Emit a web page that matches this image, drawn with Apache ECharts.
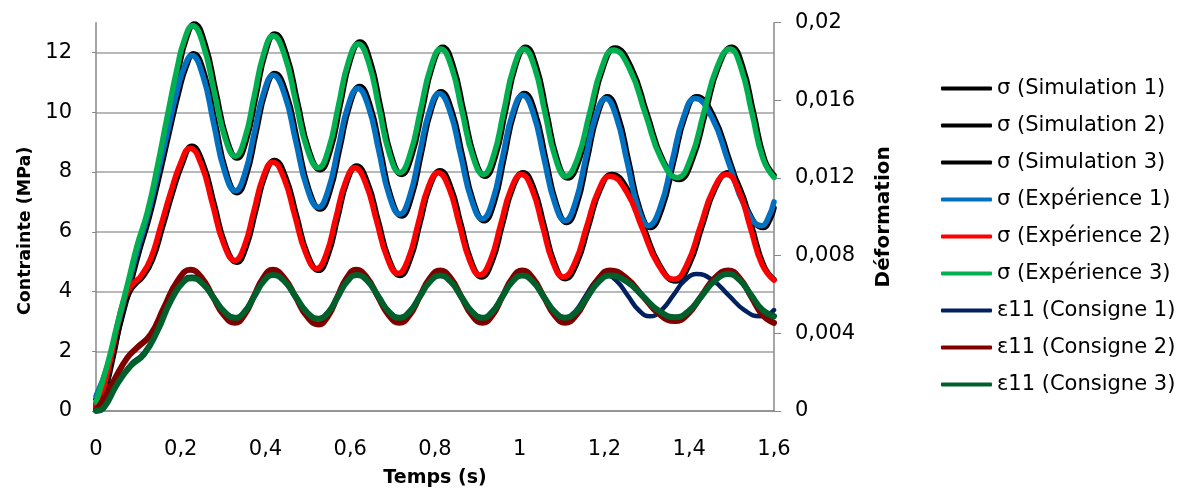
<!DOCTYPE html>
<html><head><meta charset="utf-8">
<script src="https://cdn.jsdelivr.net/npm/echarts@6/dist/echarts.min.js"></script>
<style>html,body{margin:0;padding:0;background:#fff}#c{width:1182px;height:493px}</style>
</head><body><div id="c"></div>
<script>
const seriesNames = ['σ (Simulation 1)','σ (Simulation 2)','σ (Simulation 3)','σ (Expérience 1)','σ (Expérience 2)','σ (Expérience 3)','ε11 (Consigne 1)','ε11 (Consigne 2)','ε11 (Consigne 3)'];

// Stress (MPa), [time (s), value]
const sim1 = [[0,0.4],[0.031,1.45],[0.054,2.75],[0.078,4.05],[0.101,5.3],[0.125,6.45],[0.149,7.85],[0.172,9.28],[0.196,10.72],[0.212,11.5],[0.230,11.96],
 [0.2558,11.28],[0.2815,9.64],[0.3073,7.99],[0.333,7.31],[0.355,7.90],[0.3775,9.31],[0.400,10.71],[0.422,11.30],
 [0.449,10.63],[0.4755,9.03],[0.502,7.43],[0.529,6.76],[0.552,7.36],[0.5755,8.81],[0.599,10.26],[0.622,10.86],
 [0.647,10.22],[0.6715,8.70],[0.696,7.17],[0.721,6.53],[0.744,7.14],[0.7675,8.61],[0.791,10.08],[0.814,10.69],
 [0.8395,10.06],[0.865,8.53],[0.8905,7.01],[0.916,6.37],[0.940,7.0],[0.9635,8.5],[0.987,10.0],[1.011,10.63],
 [1.036,10.0],[1.061,8.47],[1.086,6.95],[1.111,6.31],[1.135,6.93],[1.159,8.42],[1.183,9.9],[1.207,10.52],
 [1.232,9.88],[1.2575,8.33],[1.283,6.78],[1.308,6.14],[1.3355,6.78],[1.363,8.33],[1.3905,9.88],[1.418,10.52],
 [1.457,9.88],[1.4965,8.33],[1.536,6.78],[1.575,6.14],[1.59,6.4],[1.6,6.8]];
const sim2 = [[0,0.15],[0.015,0.4],[0.039,1.72],[0.062,3.28],[0.078,3.95],[0.094,4.27],[0.109,4.47],[0.133,5.06],[0.157,6.16],[0.18,7.28],[0.204,8.3],[0.226,8.86],
 [0.2525,8.29],[0.279,6.92],[0.3055,5.55],[0.332,4.98],[0.354,5.48],[0.3765,6.69],[0.399,7.89],[0.421,8.39],
 [0.447,7.85],[0.473,6.55],[0.499,5.25],[0.525,4.71],[0.5475,5.22],[0.570,6.46],[0.5925,7.69],[0.615,8.2],
 [0.6405,7.66],[0.666,6.37],[0.6915,5.08],[0.717,4.54],[0.741,5.06],[0.7645,6.29],[0.788,7.53],[0.812,8.04],
 [0.8365,7.52],[0.861,6.27],[0.8855,5.01],[0.91,4.49],[0.9345,5.0],[0.959,6.24],[0.9835,7.47],[1.008,7.98],
 [1.033,7.46],[1.0575,6.21],[1.082,4.95],[1.107,4.43],[1.1345,4.94],[1.162,6.18],[1.1895,7.41],[1.217,7.92],
 [1.255,7.40],[1.2925,6.14],[1.330,4.88],[1.368,4.35],[1.399,4.88],[1.430,6.17],[1.461,7.45],[1.492,7.98],
 [1.520,7.44],[1.548,6.15],[1.576,4.86],[1.6,4.4]];
const sim3 = [[0,0.25],[0.031,1.5],[0.054,2.85],[0.078,4.18],[0.101,5.5],[0.125,6.62],[0.149,8.18],[0.172,9.83],[0.196,11.5],[0.212,12.42],[0.232,12.96],
 [0.257,12.30],[0.2825,10.72],[0.308,9.13],[0.333,8.47],[0.355,9.08],[0.3775,10.55],[0.400,12.01],[0.422,12.62],
 [0.449,11.95],[0.4755,10.35],[0.502,8.75],[0.529,8.08],[0.5525,8.71],[0.576,10.22],[0.5995,11.72],[0.623,12.35],
 [0.6475,11.70],[0.672,10.14],[0.6965,8.57],[0.721,7.92],[0.745,8.55],[0.7695,10.05],[0.794,11.55],[0.818,12.18],
 [0.843,11.55],[0.868,10.02],[0.893,8.50],[0.918,7.86],[0.942,8.50],[0.966,10.02],[0.990,11.55],[1.014,12.18],
 [1.039,11.54],[1.0635,9.99],[1.088,8.44],[1.113,7.8],[1.141,8.44],[1.169,9.98],[1.197,11.51],[1.225,12.15],
 [1.263,11.50],[1.3005,9.95],[1.338,8.40],[1.376,7.75],[1.407,8.40],[1.438,9.97],[1.469,11.53],[1.5,12.18],
 [1.526,11.53],[1.552,9.97],[1.578,8.41],[1.6,7.9]];

const exp1 = [[0,0.5],[0.027,1.5],[0.05,2.8],[0.074,4.1],[0.097,5.35],[0.121,6.5],[0.145,7.9],[0.168,9.3],[0.192,10.75],[0.208,11.5],[0.226,11.9],
 [0.2518,11.24],[0.2775,9.64],[0.3033,8.03],[0.329,7.37],[0.351,7.94],[0.3735,9.31],[0.396,10.67],[0.418,11.24],
 [0.445,10.59],[0.4715,9.03],[0.498,7.47],[0.525,6.82],[0.548,7.40],[0.5715,8.81],[0.595,10.22],[0.618,10.8],
 [0.643,10.18],[0.6675,8.70],[0.692,7.21],[0.717,6.59],[0.740,7.18],[0.7635,8.61],[0.787,10.04],[0.81,10.63],
 [0.8355,10.02],[0.861,8.53],[0.8865,7.05],[0.912,6.43],[0.936,7.04],[0.9595,8.5],[0.983,9.96],[1.007,10.57],
 [1.032,9.96],[1.057,8.47],[1.082,6.99],[1.107,6.37],[1.131,6.97],[1.155,8.42],[1.179,9.86],[1.203,10.46],
 [1.228,9.84],[1.2535,8.33],[1.279,6.82],[1.304,6.2],[1.3315,6.82],[1.359,8.33],[1.3865,9.84],[1.414,10.46],
 [1.453,9.84],[1.4925,8.33],[1.532,6.82],[1.571,6.2],[1.586,6.45],[1.6,7.0]];
const exp2 = [[0,0.2],[0.011,0.45],[0.035,1.78],[0.058,3.33],[0.074,4.0],[0.09,4.3],[0.105,4.5],[0.129,5.1],[0.153,6.2],[0.176,7.31],[0.2,8.31],[0.222,8.8],
 [0.2485,8.25],[0.275,6.92],[0.3015,5.59],[0.328,5.04],[0.350,5.52],[0.3725,6.69],[0.395,7.85],[0.417,8.33],
 [0.443,7.81],[0.469,6.55],[0.495,5.29],[0.521,4.77],[0.5435,5.26],[0.566,6.46],[0.5885,7.65],[0.611,8.14],
 [0.6365,7.62],[0.662,6.37],[0.6875,5.12],[0.713,4.6],[0.737,5.10],[0.7605,6.29],[0.784,7.49],[0.808,7.98],
 [0.8325,7.48],[0.857,6.27],[0.8815,5.05],[0.906,4.55],[0.9305,5.04],[0.955,6.24],[0.9795,7.43],[1.004,7.92],
 [1.029,7.42],[1.0535,6.21],[1.078,4.99],[1.103,4.49],[1.1305,4.98],[1.158,6.18],[1.1855,7.37],[1.213,7.86],
 [1.251,7.36],[1.2885,6.14],[1.326,4.92],[1.364,4.41],[1.395,4.92],[1.426,6.17],[1.457,7.41],[1.488,7.92],
 [1.516,7.40],[1.544,6.15],[1.572,4.90],[1.6,4.38]];
const exp3 = [[0,0.3],[0.027,1.56],[0.05,2.89],[0.074,4.22],[0.097,5.54],[0.121,6.65],[0.145,8.2],[0.168,9.85],[0.192,11.51],[0.208,12.4],[0.228,12.9],
 [0.253,12.26],[0.2785,10.72],[0.304,9.17],[0.329,8.53],[0.351,9.12],[0.3735,10.55],[0.396,11.97],[0.418,12.56],
 [0.445,11.91],[0.4715,10.35],[0.498,8.79],[0.525,8.14],[0.5485,8.75],[0.572,10.22],[0.5955,11.68],[0.619,12.29],
 [0.6435,11.66],[0.668,10.14],[0.6925,8.61],[0.717,7.98],[0.741,8.59],[0.7655,10.05],[0.790,11.51],[0.814,12.12],
 [0.839,11.51],[0.864,10.02],[0.889,8.54],[0.914,7.92],[0.938,8.54],[0.962,10.02],[0.986,11.51],[1.010,12.12],
 [1.035,11.5],[1.0595,9.99],[1.084,8.48],[1.109,7.86],[1.137,8.48],[1.165,9.98],[1.193,11.47],[1.221,12.09],
 [1.259,11.46],[1.2965,9.95],[1.334,8.44],[1.372,7.81],[1.403,8.44],[1.434,9.97],[1.465,11.49],[1.496,12.12],
 [1.522,11.49],[1.548,9.97],[1.574,8.45],[1.6,7.82]];

// Strain (right axis), [time (s), value]
const cons1 = [[0,0.0001],[0.019,0.00025],[0.05,0.00145],[0.082,0.0024],[0.113,0.003],[0.145,0.0042],[0.176,0.00572],[0.208,0.00676],[0.226,0.00692],
 [0.2518,0.00661],[0.2775,0.00587],[0.3033,0.00513],[0.329,0.00482],[0.351,0.00514],[0.3735,0.00593],[0.396,0.00671],[0.418,0.00703],
 [0.445,0.0067],[0.4715,0.0059],[0.498,0.0051],[0.525,0.00477],[0.548,0.0051],[0.5705,0.0059],[0.593,0.0067],[0.616,0.00703],
 [0.641,0.00671],[0.666,0.00593],[0.691,0.00514],[0.716,0.00482],[0.74,0.00514],[0.764,0.00591],[0.788,0.00668],[0.812,0.007],
 [0.837,0.00668],[0.862,0.00591],[0.887,0.00514],[0.912,0.00482],[0.9355,0.00514],[0.959,0.00591],[0.9825,0.00668],[1.006,0.007],
 [1.031,0.00668],[1.0565,0.00591],[1.082,0.00514],[1.107,0.00482],[1.131,0.00514],[1.155,0.00591],[1.179,0.00668],[1.203,0.007],
 [1.229,0.00669],[1.255,0.00594],[1.281,0.00519],[1.307,0.00488],[1.3348,0.0052],[1.3625,0.00597],[1.390,0.00674],[1.418,0.00705],
 [1.455,0.00674],[1.4925,0.00597],[1.530,0.0052],[1.567,0.00488],[1.585,0.00495],[1.6,0.0052]];
const cons2 = [[0,0.0001],[0.011,0.00036],[0.042,0.00156],[0.074,0.00275],[0.097,0.00326],[0.129,0.00394],[0.16,0.00531],[0.192,0.00668],[0.223,0.00727],
 [0.2493,0.00687],[0.2755,0.0059],[0.3018,0.00494],[0.328,0.00454],[0.350,0.00494],[0.3725,0.0059],[0.395,0.00687],[0.417,0.00727],
 [0.444,0.00686],[0.471,0.00587],[0.498,0.00487],[0.525,0.00446],[0.547,0.00487],[0.5695,0.00587],[0.592,0.00686],[0.614,0.00727],
 [0.6395,0.00687],[0.665,0.0059],[0.6905,0.00494],[0.716,0.00454],[0.74,0.00494],[0.764,0.00589],[0.788,0.00684],[0.812,0.00724],
 [0.837,0.00684],[0.862,0.00589],[0.887,0.00494],[0.912,0.00454],[0.9355,0.00494],[0.959,0.00589],[0.9825,0.00684],[1.006,0.00724],
 [1.031,0.00684],[1.0565,0.00589],[1.082,0.00494],[1.107,0.00454],[1.1335,0.00494],[1.16,0.00589],[1.1865,0.00684],[1.213,0.00724],
 [1.251,0.00686],[1.2895,0.00594],[1.328,0.00501],[1.366,0.00463],[1.3975,0.00501],[1.429,0.00594],[1.4605,0.00686],[1.492,0.00724],
 [1.519,0.00684],[1.546,0.00589],[1.573,0.00494],[1.6,0.00454]];
const cons3 = [[0,0],[0.019,0.00019],[0.05,0.00139],[0.082,0.00233],[0.113,0.00292],[0.145,0.00412],[0.176,0.00565],[0.208,0.00668],[0.227,0.00684],
 [0.2525,0.00654],[0.278,0.00582],[0.3035,0.0051],[0.329,0.0048],[0.351,0.00512],[0.3735,0.00591],[0.396,0.00669],[0.418,0.00701],
 [0.445,0.00668],[0.4715,0.00588],[0.498,0.00508],[0.525,0.00475],[0.548,0.00508],[0.5705,0.00588],[0.593,0.00668],[0.616,0.00701],
 [0.641,0.00669],[0.666,0.00591],[0.691,0.00512],[0.716,0.0048],[0.74,0.00512],[0.764,0.00589],[0.788,0.00666],[0.812,0.00698],
 [0.837,0.00666],[0.862,0.00589],[0.887,0.00512],[0.912,0.0048],[0.9355,0.00512],[0.959,0.00589],[0.9825,0.00666],[1.006,0.00698],
 [1.031,0.00666],[1.0565,0.00589],[1.082,0.00512],[1.107,0.0048],[1.1335,0.00512],[1.16,0.00589],[1.1865,0.00666],[1.213,0.00698],
 [1.252,0.00667],[1.2905,0.00591],[1.329,0.00515],[1.368,0.00483],[1.399,0.00516],[1.43,0.00594],[1.461,0.00672],[1.492,0.00705],
 [1.519,0.00674],[1.546,0.00597],[1.573,0.0052],[1.6,0.00488]];

const dataList = [sim1, sim2, sim3, exp1, exp2, exp3, cons1, cons2, cons3];
const colors = ['#000000','#000000','#000000','#0070C0','#FF0000','#00B050','#002060','#800000','#00602B'];
const widths = [5.5,5.5,5.5,5.5,5.5,5.5,4.5,6,6];
const axisIdx = [0,0,0,0,0,0,1,1,1];

const FONT = 'DejaVu Sans';
const chart = echarts.init(document.getElementById('c'));
const fmtComma = (v, d) => String(+v.toFixed(d)).replace('.', ',');

chart.setOption({
  animation: false,
  backgroundColor: '#ffffff',
  textStyle: { fontFamily: FONT },
  grid: { left: 96, right: 408, top: 22.7, bottom: 79.2, containLabel: false },
  legend: {
    orient: 'vertical', left: 936, top: 73,
    itemWidth: 51, itemHeight: 4, itemGap: 16, icon: 'roundRect',
    textStyle: { fontFamily: FONT, fontSize: 21, color: '#000' },
    data: seriesNames
  },
  xAxis: {
    type: 'value', min: 0, max: 1.6, interval: 0.2,
    name: 'Temps (s)', nameLocation: 'middle', nameGap: 58,
    nameTextStyle: { fontFamily: FONT, fontSize: 19, fontWeight: 'bold', color: '#000' },
    axisLine: { show: true, lineStyle: { color: '#888', width: 1.5 } },
    axisTick: { show: false },
    splitLine: { show: false },
    axisLabel: { margin: 28, fontSize: 21, color: '#000', fontFamily: FONT, formatter: v => fmtComma(v, 1) }
  },
  yAxis: [{
    type: 'value', min: 0, max: 13, interval: 2, position: 'left',
    name: 'Contrainte (MPa)', nameLocation: 'middle', nameGap: 62, nameRotate: 90,
    nameTextStyle: { fontFamily: FONT, fontSize: 17.5, fontWeight: 'bold', color: '#000', padding: [0, 28, 0, 0] },
    axisLine: { show: true, lineStyle: { color: '#888', width: 1.5 } },
    axisTick: { show: true, length: 4, lineStyle: { color: '#888' } },
    splitLine: { show: true, showMaxLine: false, lineStyle: { color: '#a0a0a0', width: 1.5 } },
    axisLabel: { margin: 24, fontSize: 21, color: '#000', fontFamily: FONT, showMaxLabel: false, formatter: v => fmtComma(v, 0) }
  }, {
    type: 'value', min: 0, max: 0.02, interval: 0.004, position: 'right',
    name: 'Déformation', nameLocation: 'middle', nameGap: 100, nameRotate: 90,
    nameTextStyle: { fontFamily: FONT, fontSize: 20, fontWeight: 'bold', color: '#000' },
    axisLine: { show: true, lineStyle: { color: '#888', width: 1.5 } },
    axisTick: { show: true, length: 7, lineStyle: { color: '#888' } },
    splitLine: { show: false },
    axisLabel: { margin: 21, fontSize: 21, color: '#000', fontFamily: FONT, formatter: v => v === 0 ? '0' : fmtComma(v, 3) }
  }],
  series: seriesNames.map((n, i) => ({
    name: n, type: 'line', yAxisIndex: axisIdx[i], data: dataList[i],
    smooth: 0.5, showSymbol: false, symbol: 'none',
    lineStyle: { color: colors[i], width: widths[i], cap: 'round', join: 'round' },
    itemStyle: { color: colors[i] },
    emphasis: { disabled: true }, z: 2 + i * 0.01
  }))
});
</script></body></html>
